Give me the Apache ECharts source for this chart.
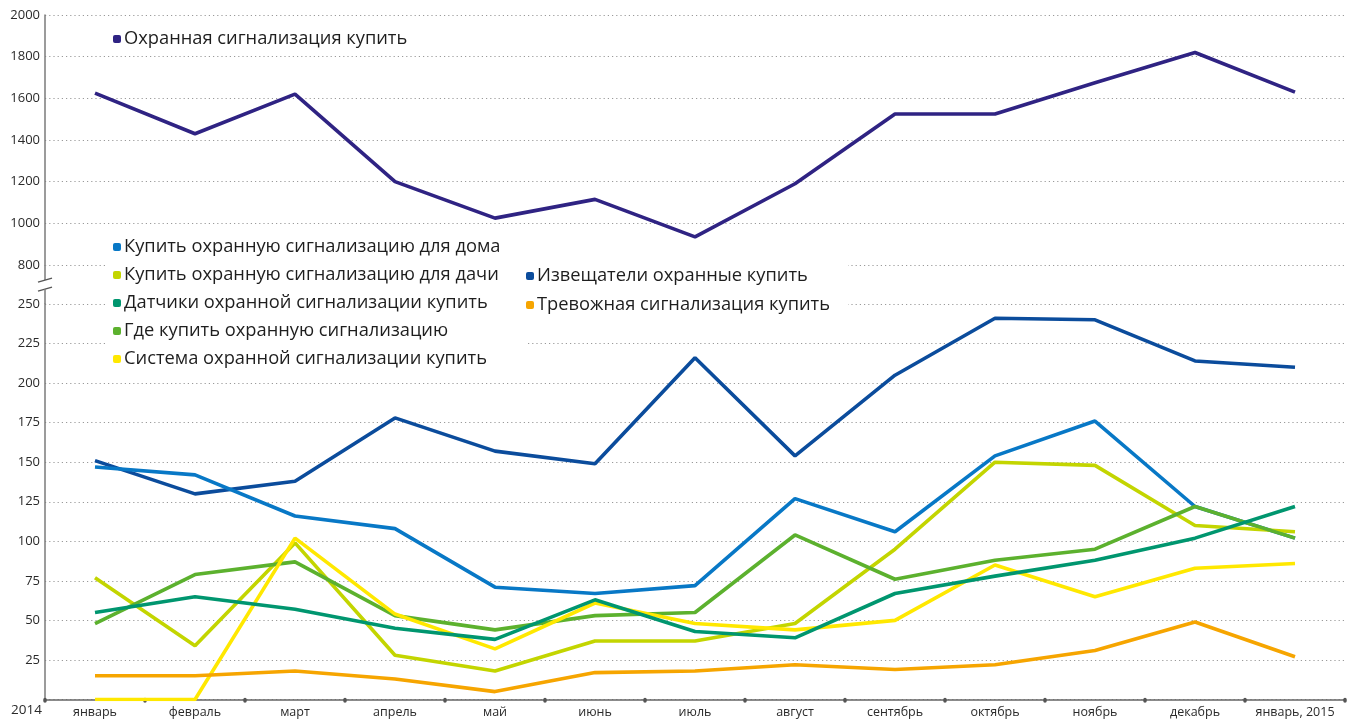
<!DOCTYPE html>
<html>
<head>
<meta charset="utf-8">
<script src="https://cdn.jsdelivr.net/npm/echarts@6/dist/echarts.min.js"></script>
<style>
  html, body { margin: 0; padding: 0; background: #fff; }
  #chart { width: 1356px; height: 723px; }
</style>
</head>
<body>
<div id="chart"></div>
<script>
  // months of 2014 + January 2015
  var months = ['январь', 'февраль', 'март', 'апрель', 'май', 'июнь', 'июль',
                'август', 'сентябрь', 'октябрь', 'ноябрь', 'декабрь', 'январь, 2015'];

  // upper part of the broken axis
  var upperTicks = [800, 1000, 1200, 1400, 1600, 1800, 2000];
  var okhrannaya = [1625, 1430, 1620, 1200, 1025, 1115, 935, 1190, 1525, 1525, 1675, 1820, 1630];

  // lower part
  var lowerTicks = [25, 50, 75, 100, 125, 150, 175, 200, 225, 250];
  var izveshateli = [151, 130, 138, 178, 157, 149, 216, 154, 205, 241, 240, 214, 210];
  var dlyaDoma    = [147, 142, 116, 108, 71, 67, 72, 127, 106, 154, 176, 122, 102];
  var dlyaDachi   = [77, 34, 99, 28, 18, 37, 37, 48, 95, 150, 148, 110, 106];
  var datchiki    = [55, 65, 57, 45, 38, 63, 43, 39, 67, 78, 88, 102, 122];
  var gdeKupit    = [48, 79, 87, 53, 44, 53, 55, 104, 76, 88, 95, 122, 102];
  var sistema     = [0, 0, 102, 54, 32, 61, 48, 44, 50, 85, 65, 83, 86];
  var trevozhnaya = [15, 15, 18, 13, 5, 17, 18, 22, 19, 22, 31, 49, 27];

  var FONT = '"Open Sans", sans-serif';
  var splitLine = { show: true, lineStyle: { color: '#9a9a9a', width: 1.2, type: [1.2, 3] } };
  var axisGray = '#7a7a7a';

  function line(name, data, color, axisIdx) {
    return {
      name: name, type: 'line', data: data,
      xAxisIndex: axisIdx, yAxisIndex: axisIdx,
      symbol: 'none', silent: true,
      lineStyle: { color: color, width: 3.6 },
      itemStyle: { color: color }
    };
  }

  function legend(names, left, top, gap, padRight) {
    return {
      data: names, left: left, top: top, orient: 'vertical',
      padding: [4, padRight, 4, 8], itemGap: gap,
      backgroundColor: '#fff', selectedMode: false,
      icon: 'roundRect', itemWidth: 8, itemHeight: 8,
      textStyle: { fontFamily: FONT, fontSize: 18.3, color: '#1e1e1e', lineHeight: 20, padding: [0, 0, 0, -2] }
    };
  }

  var plain = function (v) { return String(v); };

  var chart = echarts.init(document.getElementById('chart'));
  chart.setOption({
    animation: false,
    backgroundColor: '#fff',
    textStyle: { fontFamily: FONT },
    grid: [
      { left: 45, right: 11, top: 15, height: 250 },
      { left: 45, right: 11, top: 304, bottom: 23.5 }
    ],
    legend: [
      legend(['Охранная сигнализация купить'], 105, 25, 8, 8),
      legend(['Купить охранную сигнализацию для дома', 'Купить охранную сигнализацию для дачи',
              'Датчики охранной сигнализации купить', 'Где купить охранную сигнализацию',
              'Система охранной сигнализации купить'], 105, 233, 8, 25),
      legend(['Извещатели охранные купить', 'Тревожная сигнализация купить'], 518, 262, 9, 18)
    ],
    xAxis: [
      { gridIndex: 0, type: 'category', data: months, boundaryGap: true, show: false },
      {
        gridIndex: 1, type: 'category', data: months, boundaryGap: true,
        axisLine: { lineStyle: { color: '#666', width: 1.6 } },
        axisTick: { show: true, length: 1.5, lineStyle: { color: '#555', width: 3.5, cap: 'round' } },
        axisLabel: { color: '#2a2a2a', fontSize: 12.5, margin: 6, interval: 0 }
      }
    ],
    yAxis: [
      {
        gridIndex: 0, type: 'value', min: upperTicks[0], max: upperTicks[upperTicks.length - 1], interval: 200,
        axisLine: { show: true, lineStyle: { color: axisGray, width: 1.5 } },
        axisTick: { show: false },
        axisLabel: { color: '#2a2a2a', fontSize: 13, margin: 5, formatter: plain },
        splitLine: splitLine
      },
      {
        gridIndex: 1, type: 'value', min: 0, max: lowerTicks[lowerTicks.length - 1], interval: 25,
        axisLine: { show: true, lineStyle: { color: axisGray, width: 1.5 } },
        axisTick: { show: false },
        axisLabel: { color: '#2a2a2a', fontSize: 13, margin: 5, showMinLabel: false, formatter: plain },
        splitLine: splitLine
      }
    ],
    graphic: [
      // axis break marks
      { type: 'line', shape: { x1: 45, y1: 265, x2: 45, y2: 280 }, style: { stroke: axisGray, lineWidth: 1.5 } },
      { type: 'line', shape: { x1: 38, y1: 282, x2: 52, y2: 278 }, style: { stroke: '#555', lineWidth: 1.3 } },
      { type: 'line', shape: { x1: 38, y1: 291, x2: 52, y2: 287 }, style: { stroke: '#555', lineWidth: 1.3 } },
      { type: 'line', shape: { x1: 45, y1: 289, x2: 45, y2: 304 }, style: { stroke: axisGray, lineWidth: 1.5 } },
      { type: 'text', left: 11, top: 703, style: { text: '2014', font: '13.5px ' + FONT, fill: '#2a2a2a' } }
    ],
    series: [
      line('Охранная сигнализация купить', okhrannaya, '#2f2383', 0),
      line('Извещатели охранные купить', izveshateli, '#0b4c9c', 1),
      line('Купить охранную сигнализацию для дома', dlyaDoma, '#0878c6', 1),
      line('Купить охранную сигнализацию для дачи', dlyaDachi, '#c3d500', 1),
      line('Где купить охранную сигнализацию', gdeKupit, '#5cb12e', 1),
      line('Система охранной сигнализации купить', sistema, '#ffe800', 1),
      line('Датчики охранной сигнализации купить', datchiki, '#00966f', 1),
      line('Тревожная сигнализация купить', trevozhnaya, '#f6a500', 1)
    ]
  });
</script>
</body>
</html>
